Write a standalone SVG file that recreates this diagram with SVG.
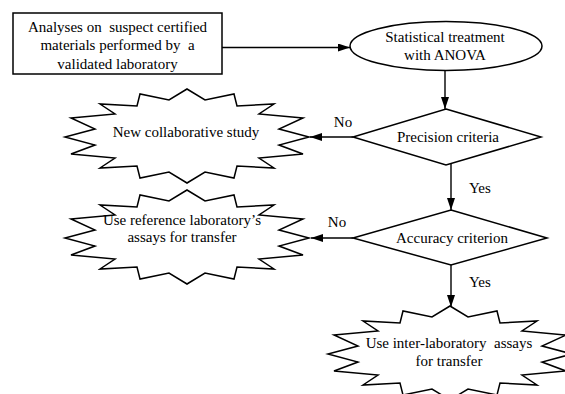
<svg xmlns="http://www.w3.org/2000/svg" xmlns:xlink="http://www.w3.org/1999/xlink" width="565" height="394" viewBox="0 0 565 394" font-family="'Liberation Serif', 'DejaVu Serif', serif">
<style>
.shape{fill:#fff;stroke:#000;stroke-width:1.5;stroke-linejoin:miter}
.conn{fill:none;stroke:#000;stroke-width:1.4}
text{font-family:'Liberation Serif','DejaVu Serif',serif;font-size:15px;fill:#000}
.c{text-anchor:middle}
</style>
<defs>
<marker id="arr" viewBox="0 0 12 8" refX="12" refY="4" markerWidth="12" markerHeight="8" markerUnits="userSpaceOnUse" orient="auto">
<path d="M0,0 L12,4 L0,8 Z" fill="#000"/>
</marker>
<path id="star" d="M0,-47 L18,-36 L47,-42 L50,-30 L87,-32 L72,-22 L116,-18 L92,-7 L122,1 L92,9 L116,18 L72,22 L87,32 L50,30 L47,42 L18,36 L0,47 L-18,36 L-47,42 L-50,30 L-87,32 L-72,22 L-116,18 L-92,9 L-122,1 L-92,-7 L-116,-18 L-72,-22 L-87,-32 L-50,-30 L-47,-42 L-18,-36 Z"/>
</defs>
<rect width="565" height="394" fill="#fff"/>
<g id="connectors">
<line class="conn" x1="222" y1="47.5" x2="350" y2="47.5" marker-end="url(#arr)"/>
<line class="conn" x1="445" y1="70" x2="445" y2="109" marker-end="url(#arr)"/>
<line class="conn" x1="353" y1="137" x2="310" y2="137" marker-end="url(#arr)"/>
<line class="conn" x1="451" y1="164" x2="451" y2="210" marker-end="url(#arr)"/>
<line class="conn" x1="353" y1="238" x2="311" y2="238" marker-end="url(#arr)"/>
<line class="conn" x1="451" y1="265" x2="451" y2="307" marker-end="url(#arr)"/>
<text x="343" y="126.5" class="c">No</text>
<text x="337" y="227" class="c">No</text>
<text x="469" y="193">Yes</text>
<text x="469" y="287">Yes</text>
</g>
<g id="start">
<rect class="shape" x="13" y="13" width="209" height="61"/>
<text x="117.5" y="31.5" class="c" xml:space="preserve">Analyses on  suspect certified</text>
<text x="117.5" y="50" class="c" xml:space="preserve">materials performed by  a</text>
<text x="117.5" y="68.5" class="c">validated laboratory</text>
</g>
<g id="anova">
<ellipse class="shape" cx="446" cy="46" rx="96" ry="24.5"/>
<text x="445" y="41.5" class="c">Statistical treatment</text>
<text x="445" y="60" class="c">with ANOVA</text>
</g>
<g id="precision">
<polygon class="shape" points="446,109 541,137 446,165 353,137"/>
<text x="448" y="142" class="c">Precision criteria</text>
</g>
<g id="accuracy">
<polygon class="shape" points="451,210 547,238 451,265 353,238"/>
<text x="452" y="243" class="c">Accuracy criterion</text>
</g>
<g id="new-study">
<use xlink:href="#star" href="#star" class="shape" transform="translate(187,136)"/>
<text x="186" y="137" class="c">New collaborative study</text>
</g>
<g id="reference-lab">
<use xlink:href="#star" href="#star" class="shape" transform="translate(187,237)"/>
<text x="182" y="224.5" class="c">Use reference laboratory’s</text>
<text x="182" y="242" class="c">assays for transfer</text>
</g>
<g id="inter-lab">
<use xlink:href="#star" href="#star" class="shape" transform="translate(450,353)"/>
<text x="449" y="347.5" class="c" xml:space="preserve">Use inter-laboratory  assays</text>
<text x="449" y="366" class="c">for transfer</text>
</g>
</svg>
